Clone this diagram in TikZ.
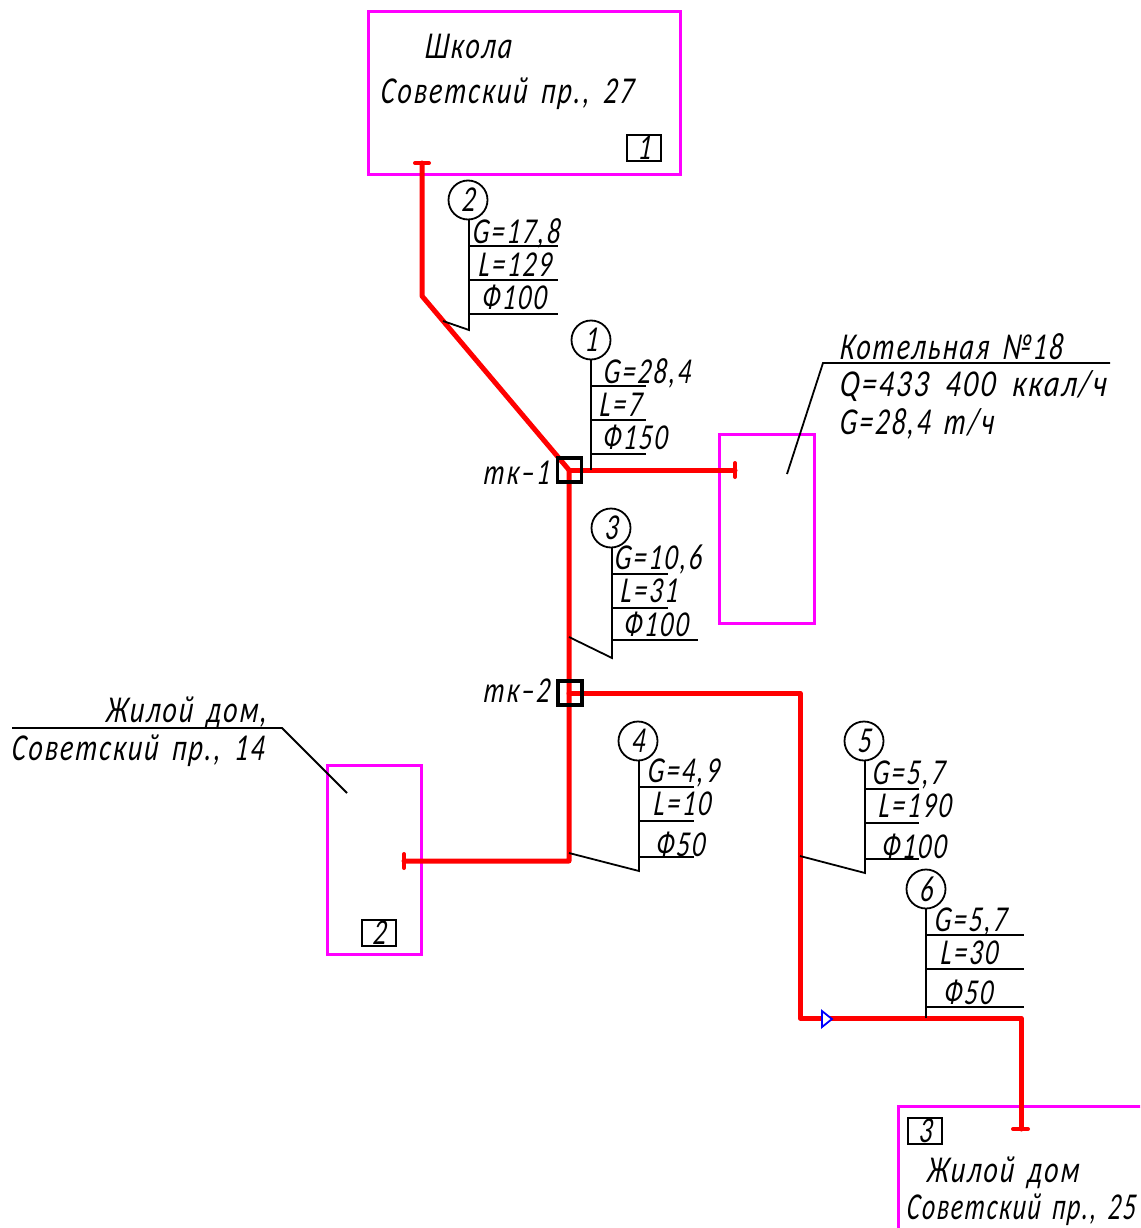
\documentclass[tikz,border=0pt]{standalone}
\usepackage{fontspec}
\setmainfont{Carlito}[LetterSpace=6,WordSpace=1.6,FakeStretch=0.72,FakeSlant=0.1]
\newfontfamily\widecad{Carlito}[LetterSpace=6,WordSpace=1.9,FakeStretch=0.78,FakeSlant=0.1]
\newfontfamily\narrowcad{Carlito}[LetterSpace=5,WordSpace=1.5,FakeStretch=0.665,FakeSlant=0.1]
\tikzset{
  txt/.style={inner sep=0pt,anchor=base west,xshift=-1pt,yshift=-1pt,font=\fontsize{38}{40}\selectfont\itshape},
  small/.style={txt,font=\fontsize{36.5}{40}\selectfont\itshape},
  pipe/.style={draw=red,line width=5pt,line join=round,line cap=round},
  thin/.style={draw=black,line width=1.8pt},
  site/.style={draw=magenta,line width=3pt,inner sep=0pt,outer sep=0pt,anchor=north west},
  chamber/.style={draw=black,line width=3.2pt,inner sep=0pt,outer sep=0pt,minimum size=24pt},
  tag/.style={draw=black,line width=1.8pt,inner sep=0pt,minimum width=34pt,minimum height=26pt,font=\fontsize{36.5}{40}\selectfont\itshape},
  numb/.style={circle,draw=black,line width=1.8pt,inner sep=0pt,outer sep=0pt,minimum size=39pt,font=\fontsize{36.5}{40}\selectfont\itshape},
}
\definecolor{magenta}{RGB}{255,0,255}
\begin{document}
\begin{tikzpicture}[x=1pt,y=-1pt]
\useasboundingbox (0,0) rectangle (1140,1228);
\clip (0,0) rectangle (1140,1228);
% sites
\node[site,minimum width=312pt,minimum height=162pt] (s1) at (368,12) {};
\node[site,minimum width=95pt,minimum height=189pt] (s0) at (719,434) {};
\node[site,minimum width=94pt,minimum height=189pt] (s2) at (327,765) {};
\node[site,minimum width=300pt,minimum height=200pt] (s3) at (898,1106) {};
% pipe coordinates
\coordinate (endA) at (422,163); \coordinate (bendA) at (422,296);
\coordinate (tk1) at (569,470); \coordinate (tk2) at (569,693);
\coordinate (endB) at (735,470); \coordinate (j4) at (569,861);
\coordinate (endC) at (404,861); \coordinate (b5) at (800,693);
\coordinate (b6) at (800,1018); \coordinate (b7) at (1021,1018);
\coordinate (endD) at (1021,1129);
\draw[pipe] (endA) -- (bendA) -- (tk1) -- (j4) -- (endC);
\draw[pipe] (tk1) -- (endB);
\draw[pipe] (tk2) -- (b5) -- (b6) -- (b7) -- (endD);
\draw[pipe,line width=4pt] (415,163) -- (429,163);
\draw[pipe,line width=4pt] (735,463) -- (735,477);
\draw[pipe,line width=4pt] (404,854) -- (404,868);
\draw[pipe,line width=4pt] (1013,1129) -- (1028,1129);
% chambers
\node[chamber] (c1) at (569.5,470) {};
\node[chamber] (c2) at (570,693) {};
\node[small] (tk1t) at (484,483) {тк–1};
\node[small] (tk2t) at (484,701) {тк–2};
% valve
\draw[blue,line width=1.8pt,fill=white] (822,1011) -- (832,1019) -- (822,1027) -- cycle;
% numbers
\node[numb] (n1) at (591,340) {1};
\node[numb] (n2) at (468,200) {2};
\node[numb] (n3) at (611,528) {3};
\node[numb] (n4) at (638,741) {4};
\node[numb] (n5) at (864,741) {5};
\node[numb] (n6) at (926,889) {6};
% callout 2
\coordinate (a2) at (469,330); \coordinate (p2) at (443,321);
\draw[thin] (n2.south) ++(1,0) -- (a2) -- (p2);
\draw[thin] (469,246) -- (558,246) (469,280) -- (558,280) (469,314) -- (558,314);
\node[small] (g2) at (473,242) {G=17,8};
\node[small] (l2) at (479,275) {L=129};
\node[small] (d2) at (482,308) {Ф100};
% callout 1
\coordinate (a1) at (591,470);
\draw[thin] (n1.south) -- (a1);
\draw[thin] (591,386) -- (646,386) (591,420) -- (646,420) (591,454) -- (646,454);
\node[small] (g1) at (604,382) {G=28,4};
\node[small] (l1) at (600,415) {L=7};
\node[small] (d1) at (603,448) {Ф150};
% callout 3
\coordinate (a3) at (612,658); \coordinate (p3) at (569,637);
\draw[thin] (n3.south) ++(1,0) -- (a3) -- (p3);
\draw[thin] (612,574) -- (668,574) (612,608) -- (668,608) (612,640) -- (698,640);
\node[small] (g3) at (615,568) {G=10,6};
\node[small] (l3) at (621,601) {L=31};
\node[small] (d3) at (624,635) {Ф100};
% callout 4
\coordinate (a4) at (639,871); \coordinate (p4) at (569,853);
\draw[thin] (n4.south) ++(1,0) -- (a4) -- (p4);
\draw[thin] (639,787) -- (694,787) (639,821) -- (694,821) (639,857) -- (694,857);
\node[small] (g4) at (648,781) {G=4,9};
\node[small] (l4) at (654,814) {L=10};
\node[small] (d4) at (656,855) {Ф50};
% callout 5
\coordinate (a5) at (865,873); \coordinate (p5) at (800,856);
\draw[thin] (n5.south) ++(1,0) -- (a5) -- (p5);
\draw[thin] (865,789) -- (919,789) (865,823) -- (919,823) (865,859) -- (919,859);
\node[small] (g5) at (873,783) {G=5,7};
\node[small] (l5) at (879,816) {L=190};
\node[small] (d5) at (882,857) {Ф100};
% callout 6
\coordinate (a6) at (926,1018);
\draw[thin] (n6.south) -- (a6);
\draw[thin] (926,935) -- (1024,935) (926,969) -- (1024,969) (926,1007) -- (1024,1007);
\node[small] (g6) at (935,930) {G=5,7};
\node[small] (l6) at (941,963) {L=30};
\node[small] (d6) at (944,1003) {Ф50};
% boiler leader
\coordinate (q1) at (787,474); \coordinate (q2) at (823,363); \coordinate (q3) at (1110,363);
\draw[thin] (q1) -- (q2) -- (q3);
\node[txt] (k1) at (840,358) {Котельная №18};
\node[txt] (k2) at (840,395) {\widecad\itshape Q=433 400 ккал/ч};
\node[txt] (k3) at (840,433) {G=28,4 т/ч};
% house 14 leader
\coordinate (w1) at (12,728); \coordinate (w2) at (282,728); \coordinate (w3) at (347,793);
\draw[thin] (w1) -- (w2) -- (w3);
\node[txt] (h1) at (106,721) {Жилой дом,};
\node[txt] (h2) at (12,759) {Советский пр., 14};
% texts in sites
\node[txt] (t1) at (425,58) {Школа};
\node[txt] (t2) at (381,103) {Советский пр., 27};
\node[tag] (b1) at (644,148) {1};
\node[tag] (b2) at (379,933) {2};
\node[tag] (b3) at (925,1131) {3};
\node[txt] (t3) at (927,1181) {Жилой дом};
\node[txt] (t4) at (907,1218) {\narrowcad\itshape Советский пр., 25};
\end{tikzpicture}
\end{document}
